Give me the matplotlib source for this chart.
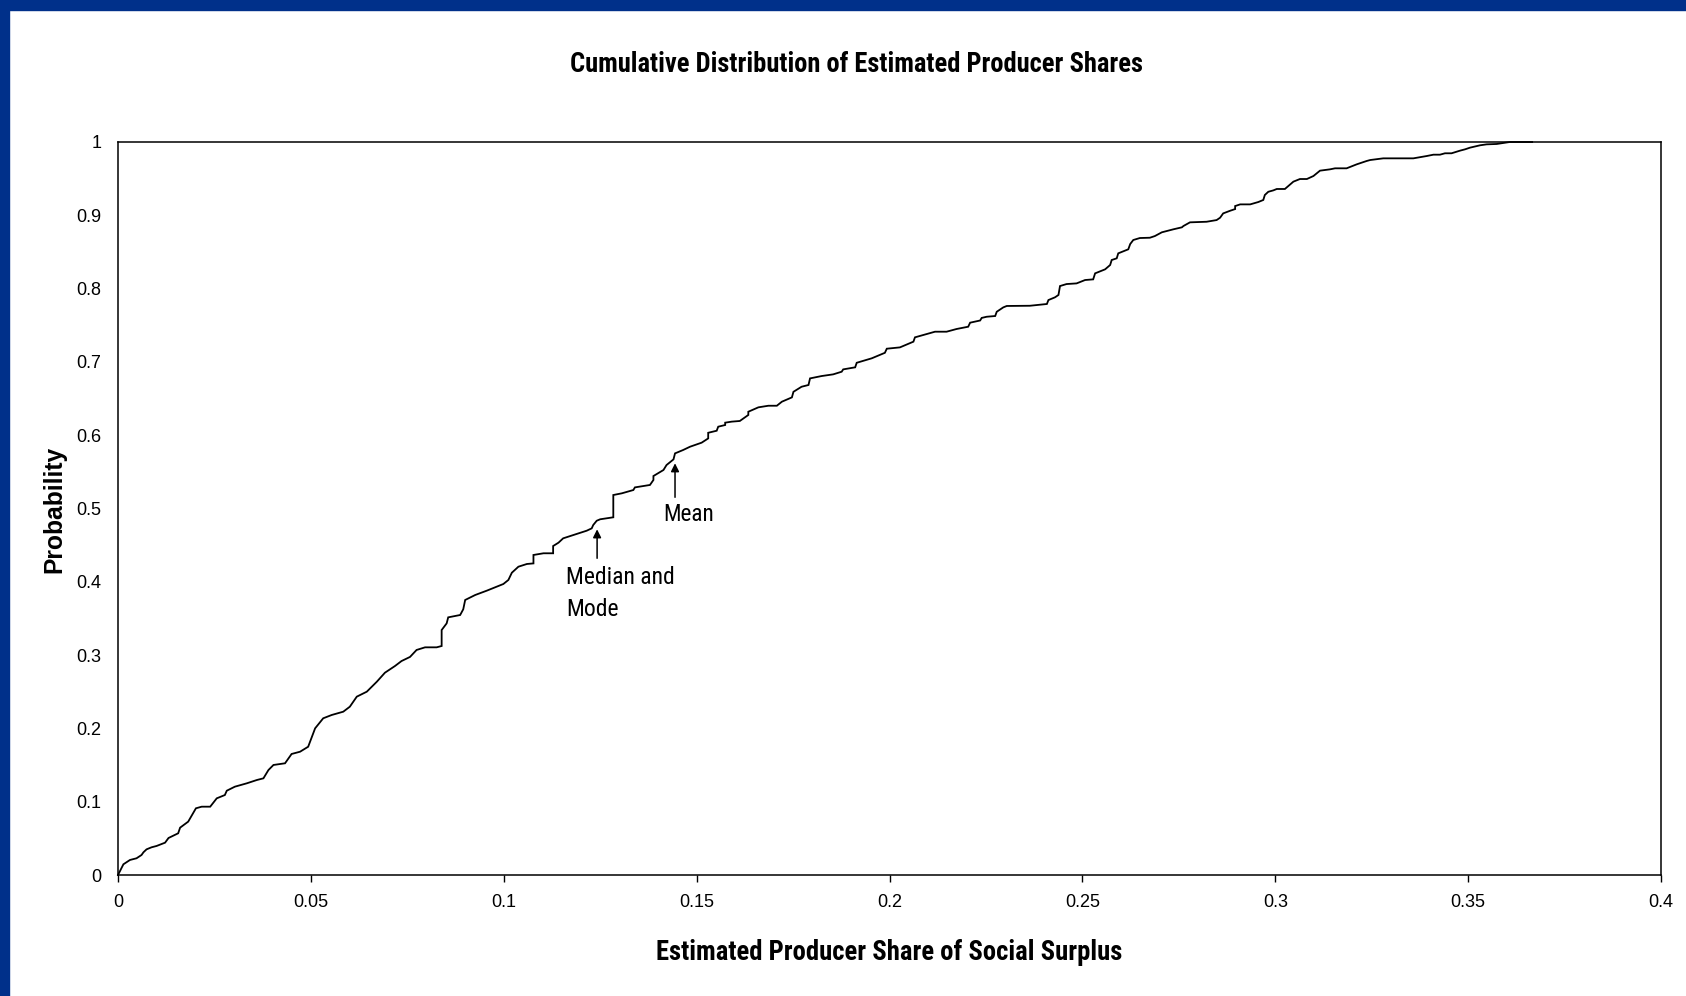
import os
import matplotlib
matplotlib.use("Agg")
import matplotlib.pyplot as plt
from matplotlib import font_manager as fm
from matplotlib.patches import Rectangle

# cumulative distribution
share = [0.0000, 0.0014, 0.0031, 0.0048, 0.0061, 0.0066, 0.0074, 0.0087, 0.0100, 0.0122,
         0.0131, 0.0156, 0.0161, 0.0182, 0.0187, 0.0202, 0.0217, 0.0239, 0.0256, 0.0277,
         0.0282, 0.0303, 0.0334, 0.0360, 0.0377, 0.0390, 0.0403, 0.0433, 0.0450, 0.0472,
         0.0493, 0.0498, 0.0511, 0.0532, 0.0554, 0.0584, 0.0601, 0.0619, 0.0645, 0.0671,
         0.0692, 0.0718, 0.0735, 0.0757, 0.0774, 0.0796, 0.0826, 0.0839, 0.0839, 0.0852,
         0.0856, 0.0887, 0.0895, 0.0900, 0.0926, 0.0956, 0.0999, 0.1012, 0.1021, 0.1038,
         0.1060, 0.1077, 0.1077, 0.1103, 0.1128, 0.1128, 0.1142, 0.1154, 0.1180, 0.1198,
         0.1215, 0.1228, 0.1232, 0.1241, 0.1250, 0.1284, 0.1284, 0.1306, 0.1336, 0.1340,
         0.1379, 0.1388, 0.1388, 0.1414, 0.1422, 0.1440, 0.1444, 0.1465, 0.1483, 0.1513,
         0.1530, 0.1530, 0.1552, 0.1556, 0.1574, 0.1574, 0.1591, 0.1612, 0.1634, 0.1634,
         0.1660, 0.1686, 0.1708, 0.1721, 0.1747, 0.1751, 0.1772, 0.1790, 0.1794, 0.1824,
         0.1854, 0.1876, 0.1880, 0.1911, 0.1915, 0.1954, 0.1988, 0.1993, 0.2027, 0.2062,
         0.2066, 0.2088, 0.2118, 0.2148, 0.2174, 0.2204, 0.2209, 0.2235, 0.2239, 0.2252,
         0.2274, 0.2278, 0.2295, 0.2304, 0.2364, 0.2408, 0.2412, 0.2429, 0.2438, 0.2442,
         0.2459, 0.2485, 0.2507, 0.2528, 0.2533, 0.2559, 0.2572, 0.2576, 0.2589, 0.2593,
         0.2619, 0.2624, 0.2632, 0.2649, 0.2675, 0.2688, 0.2706, 0.2736, 0.2758, 0.2762,
         0.2779, 0.2822, 0.2848, 0.2857, 0.2865, 0.2883, 0.2896, 0.2896, 0.2909, 0.2935,
         0.2956, 0.2969, 0.2973, 0.2982, 0.2995, 0.3004, 0.3025, 0.3034, 0.3047, 0.3064,
         0.3082, 0.3099, 0.3116, 0.3142, 0.3155, 0.3185, 0.3211, 0.3237, 0.3246, 0.3280,
         0.3358, 0.3393, 0.3410, 0.3427, 0.3440, 0.3457, 0.3479, 0.3492, 0.3505, 0.3531,
         0.3548, 0.3574, 0.3591, 0.3608, 0.3666]
prob = [0.0000, 0.0146, 0.0205, 0.0228, 0.0273, 0.0310, 0.0350, 0.0378, 0.0396, 0.0441,
        0.0505, 0.0569, 0.0646, 0.0728, 0.0773, 0.0910, 0.0932, 0.0932, 0.1046, 0.1091,
        0.1150, 0.1205, 0.1251, 0.1296, 0.1319, 0.1432, 0.1501, 0.1524, 0.1651, 0.1682,
        0.1750, 0.1819, 0.2001, 0.2138, 0.2183, 0.2228, 0.2296, 0.2433, 0.2501, 0.2637,
        0.2760, 0.2851, 0.2919, 0.2975, 0.3070, 0.3106, 0.3106, 0.3124, 0.3342, 0.3433,
        0.3515, 0.3547, 0.3625, 0.3752, 0.3820, 0.3879, 0.3970, 0.4025, 0.4124, 0.4206,
        0.4243, 0.4251, 0.4366, 0.4389, 0.4389, 0.4488, 0.4534, 0.4593, 0.4638, 0.4669,
        0.4697, 0.4729, 0.4775, 0.4833, 0.4853, 0.4880, 0.5184, 0.5207, 0.5252, 0.5288,
        0.5321, 0.5389, 0.5443, 0.5525, 0.5593, 0.5670, 0.5752, 0.5798, 0.5843, 0.5898,
        0.5956, 0.6033, 0.6061, 0.6116, 0.6139, 0.6171, 0.6185, 0.6194, 0.6276, 0.6320,
        0.6380, 0.6402, 0.6402, 0.6457, 0.6516, 0.6592, 0.6661, 0.6685, 0.6775, 0.6807,
        0.6830, 0.6866, 0.6898, 0.6926, 0.6988, 0.7049, 0.7124, 0.7180, 0.7198, 0.7276,
        0.7335, 0.7367, 0.7412, 0.7412, 0.7449, 0.7480, 0.7535, 0.7565, 0.7600, 0.7616,
        0.7626, 0.7684, 0.7744, 0.7763, 0.7766, 0.7790, 0.7844, 0.7881, 0.7913, 0.8035,
        0.8062, 0.8071, 0.8117, 0.8126, 0.8208, 0.8263, 0.8322, 0.8390, 0.8413, 0.8481,
        0.8536, 0.8608, 0.8663, 0.8690, 0.8694, 0.8717, 0.8768, 0.8809, 0.8836, 0.8854,
        0.8904, 0.8912, 0.8935, 0.8967, 0.9026, 0.9062, 0.9085, 0.9126, 0.9149, 0.9149,
        0.9181, 0.9209, 0.9277, 0.9321, 0.9340, 0.9359, 0.9359, 0.9400, 0.9459, 0.9495,
        0.9495, 0.9536, 0.9609, 0.9627, 0.9641, 0.9641, 0.9695, 0.9741, 0.9754, 0.9777,
        0.9777, 0.9809, 0.9827, 0.9827, 0.9846, 0.9846, 0.9882, 0.9900, 0.9923, 0.9955,
        0.9968, 0.9973, 0.9986, 1.0000, 1.0000]

xticks = [0, 0.05, 0.1, 0.15, 0.2, 0.25, 0.3, 0.35, 0.4]
xtick_labels = ["0", "0.05", "0.1", "0.15", "0.2", "0.25", "0.3", "0.35", "0.4"]
yticks = [0, 0.1, 0.2, 0.3, 0.4, 0.5, 0.6, 0.7, 0.8, 0.9, 1]
ytick_labels = ["0", "0.1", "0.2", "0.3", "0.4", "0.5", "0.6", "0.7", "0.8", "0.9", "1"]

# annotation anchors (x, arrow tip y, arrow tail y)
median_pt = (0.1242, 0.4716, 0.4321)
mean_pt = (0.1444, 0.5617, 0.5153)


def narrow_font(bold):
    # look for an Arial-Narrow-like face, else None
    keys = ["liberationsansnarrow", "robotocondensed", "dejavusanscondensed",
            "opensanscondensed", "opensans_condensed", "notosanscondensed"]
    for key in keys:
        for f in fm.fontManager.ttflist:
            base = os.path.basename(f.fname).replace("-", "").replace(" ", "").lower()
            if key not in base or f.style != "normal":
                continue
            w = f.weight if isinstance(f.weight, int) else fm.weight_dict.get(f.weight, 400)
            if (w >= 600) == bold:
                return f.fname
    return None


def fprops(bold, size):
    path = narrow_font(bold)
    if path:
        return fm.FontProperties(fname=path, size=size)
    return fm.FontProperties(family=["Liberation Sans", "DejaVu Sans"],
                             weight="bold" if bold else "normal", size=size)


plain = ["Liberation Sans", "DejaVu Sans"]

W, H = 1686, 996
fig = plt.figure(figsize=(W / 100, H / 100), dpi=100)
fig.patch.set_facecolor("white")

# blue frame on the top and left edges
blue = "#00308a"
fig.patches.append(Rectangle((0, 1 - 10 / H), 1, 10 / H, transform=fig.transFigure,
                             color=blue, zorder=0))
fig.patches.append(Rectangle((0, 0), 9 / W, 1, transform=fig.transFigure,
                             color=blue, zorder=0))

ax = fig.add_axes([118 / W, 1 - 875 / H, (1661 - 118) / W, (875 - 142) / H])
ax.plot(share, prob, color="black", lw=1.3, clip_on=False, solid_joinstyle="miter")

ax.set_xlim(0, 0.4)
ax.set_ylim(0, 1)
ax.set_xticks(xticks)
ax.set_xticklabels(xtick_labels, family=plain, fontsize=13)
ax.set_yticks(yticks)
ax.set_yticklabels(ytick_labels, family=plain, fontsize=13)
ax.tick_params(axis="x", direction="out", length=5, width=1, pad=9)
ax.tick_params(axis="y", length=0, pad=12)
for s in ax.spines.values():
    s.set_linewidth(1.1)

arrow = dict(arrowstyle="-|>", color="black", lw=1.1, mutation_scale=12, shrinkA=0, shrinkB=0)
ax.annotate("", xy=(median_pt[0], median_pt[1]), xytext=(median_pt[0], median_pt[2]),
            arrowprops=arrow)
ax.annotate("", xy=(mean_pt[0], mean_pt[1]), xytext=(mean_pt[0], mean_pt[2]),
            arrowprops=arrow)
t_med = ax.text(0.1161, 0.4216, "Median and\nMode", fontproperties=fprops(False, 17),
                ha="left", va="top", linespacing=1.5)
t_mean = ax.text(0.1413, 0.5075, "Mean", fontproperties=fprops(False, 17),
                 ha="left", va="top")

t_title = fig.text(857 / W, 1 - 64 / H, "Cumulative Distribution of Estimated Producer Shares",
                   fontproperties=fprops(True, 17), ha="center", va="center")
t_xlab = fig.text(889 / W, 1 - 952 / H, "Estimated Producer Share of Social Surplus",
                  fontproperties=fprops(True, 17), ha="center", va="center")
t_ylab = fig.text(54 / W, 1 - 509 / H, "Probability", family=plain, fontsize=17,
                  fontweight="bold", rotation=90, ha="center", va="center")

# scale the text sizes to the widths measured on the original
fig.canvas.draw()
r = fig.canvas.get_renderer()
for t, target, use_h in [(t_title, 574, False), (t_xlab, 465, False),
                         (t_mean, 51, False), (t_ylab, 127, True)]:
    bb = t.get_window_extent(r)
    now = bb.height if use_h else bb.width
    t.set_fontsize(t.get_fontsize() * target / now)
bb = t_med.get_window_extent(r)
t_med.set_fontsize(t_med.get_fontsize() * 109 / bb.width)

fig.savefig("out.png", dpi=100)
